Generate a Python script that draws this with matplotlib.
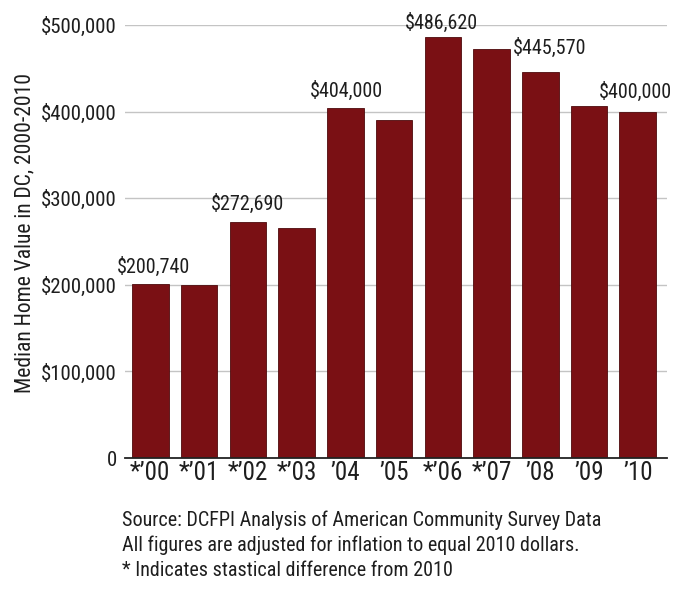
import numpy as np
import matplotlib
matplotlib.use('Agg')
import matplotlib.pyplot as plt

plt.rcParams['font.family'] = ['Liberation Sans Narrow', 'Roboto Condensed', 'Roboto', 'DejaVu Sans']

# data
years      = ["*\u201900", "*\u201901", "*\u201902", "*\u201903", "\u201904", "\u201905",
              "*\u201906", "*\u201907", "\u201908", "\u201909", "\u201910"]
values     = [200740, 200000, 272690, 265500, 404000, 390500,
              486620, 472500, 445570, 407000, 400000]
# which bars carry a value label
labelled   = [0, 2, 4, 6, 8, 10]
yticks     = [0, 100000, 200000, 300000, 400000, 500000]
ytickLabels = ["0", "$100,000", "$200,000", "$300,000", "$400,000", "$500,000"]
notes      = ["Source: DCFPI Analysis of American Community Survey Data",
              "All figures are adjusted for inflation to equal 2010 dollars.",
              "* Indicates stastical difference from 2010"]

barColor  = '#7a1014'
textColor = '#1e1e1e'

fig = plt.figure(figsize = (6.79, 5.96), dpi = 100)
W, H = 679.0, 596.0
ax = fig.add_axes([125 / W, (H - 458) / H, 542 / W, 433 / H])  # left, bottom, width, height

x = np.arange(len(values))
ax.bar(x, values, width = 0.75, color = barColor, edgecolor = '#4e0a0c', linewidth = 0.6, zorder = 3)

ax.set_xlim(-0.52, 10.6)
ax.set_ylim(0, 500000)

# gridlines, no frame except bottom axis line
ax.set_yticks(yticks)
ax.set_yticklabels(ytickLabels, fontsize = 15, color = textColor)
for yv in yticks[1:]:
    ax.axhline(yv, color = '#c4c4c4', linewidth = 1.0, zorder = 1)
for s in ['top', 'right', 'left']:
    ax.spines[s].set_visible(False)
ax.spines['bottom'].set_color('#222222')
ax.spines['bottom'].set_linewidth(1.3)
ax.spines['bottom'].set_zorder(4)

ax.set_xticks(x)
ax.set_xticklabels(years, fontsize = 18, color = textColor)
ax.tick_params(axis = 'both', length = 0)
ax.tick_params(axis = 'y', pad = 6)
ax.tick_params(axis = 'x', pad = 2)

ax.set_ylabel("Median Home Value in DC, 2000-2010", fontsize = 15.5, color = textColor)
ax.yaxis.set_label_coords(-0.166, 0.52)

# value labels above selected bars (the '08 one sits to the right of '07)
offsets = {0: (2, 5), 2: (0, 6), 4: (1, 5), 6: (-1, 3), 8: (7, 10), 10: (-2, 7)}
for i in labelled:
    dx, dy = offsets[i]
    ax.annotate("${:,}".format(values[i]), (x[i], values[i]),
                xytext = (dx, dy), textcoords = 'offset points',
                ha = 'center', va = 'bottom', fontsize = 14.5, color = textColor,
                annotation_clip = False, zorder = 5)

for k, line in enumerate(notes):
    fig.text(122 / W, 1 - (510 + k * 25.5) / H, line, fontsize = 14.5,
             color = textColor, ha = 'left', va = 'top')

fig.savefig("out.png", dpi = 100)
